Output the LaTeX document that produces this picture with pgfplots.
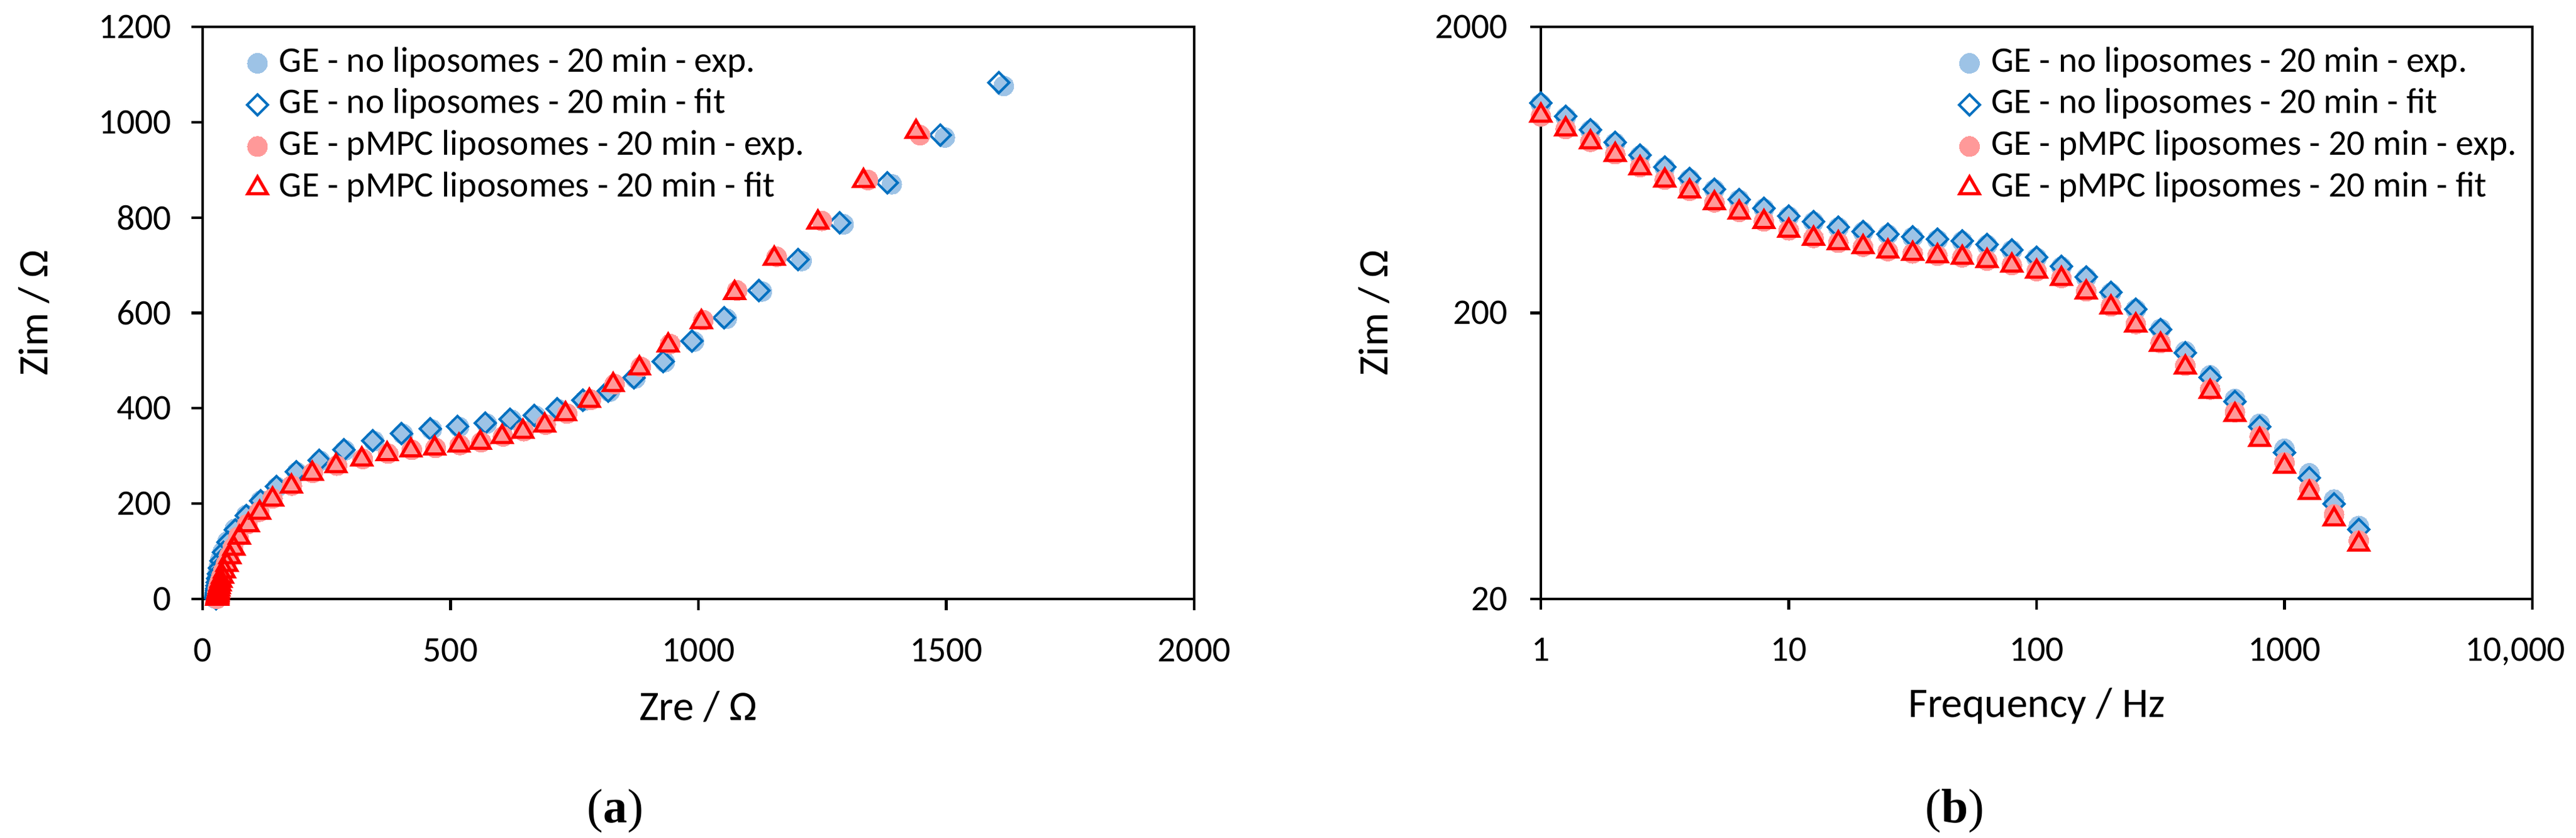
\documentclass[border=0pt]{standalone}
\usepackage{fontspec}
\setmainfont{Carlito}
\newfontfamily\capfont{Liberation Serif}
\usepackage{pgfplots}
\usepackage{pgfplotstable}
\pgfplotsset{compat=1.18}

\definecolor{fitblue}{RGB}{0,112,192}
\definecolor{expblue}{RGB}{157,195,230}
\definecolor{fitred}{RGB}{255,0,0}
\definecolor{expred}{RGB}{255,153,153}

% f / Hz, Zre / Ohm, Zim / Ohm
\pgfplotstableread{
f zre zim
1 1616 1076
1.259 1497 968
1.585 1390 870
1.995 1293 786
2.512 1208 709
3.162 1128 645
3.981 1057 588
5.012 991 540
6.310 932 497
7.943 873 463
10.00 821 435
12.59 770 416
15.85 718 398
19.95 672 384
25.12 623 376
31.62 573 368
39.81 517 361
50.12 462 356
63.10 404 346
79.43 346 331
100.0 287 312
125.9 237 290
158.5 190 266
199.5 150 235
251.2 117 206
316.2 88 176
398.1 65 147
501.2 50 121
631.0 41 100
794.3 35.5 82
1000 32.5 67
1259 30.5 55
1585 29 44.5
1995 28 36
2512 27.5 29
3162 27 23
3981 26.8 18.5
5012 26.6 14.5
6310 26.5 11.5
7943 26.4 9.2
10000 26.4 7.2
12589 26.3 5.7
15849 26.3 4.6
19953 26.3 3.6
25119 26.3 2.9
31623 26.2 2.3
39811 26.2 1.8
50119 26.2 1.5
63096 26.2 1.2
79433 26.2 0.9
100000 26.2 0.7
}\noexp

\pgfplotstableread{
f zre zim
1 1606 1083
1.259 1488 973
1.585 1381 873
1.995 1285 789
2.512 1201 712
3.162 1122 647
3.981 1052 590
5.012 987 541
6.310 929 498
7.943 870 464
10.00 818 436
12.59 767 417
15.85 715 399
19.95 669 385
25.12 620 377
31.62 570 369
39.81 514 362
50.12 459 357
63.10 401 347
79.43 343 332
100.0 285 313
125.9 235 291
158.5 189 267
199.5 149 236
251.2 117 206
316.2 88 175
398.1 66 145
501.2 51 119
631.0 42 98
794.3 37 80
1000 34 65
1259 32 53
1585 30.5 43
1995 29.5 35
2512 28.8 28
3162 28.3 22
3981 28.0 18
5012 27.8 14
6310 27.6 11
7943 27.5 9
10000 27.4 7
12589 27.3 5.5
15849 27.3 4.5
19953 27.2 3.5
25119 27.2 2.8
31623 27.2 2.2
39811 27.1 1.8
50119 27.1 1.4
63096 27.1 1.1
79433 27.1 0.9
100000 27.1 0.7
}\nofit

\pgfplotstableread{
f zre zim
1 1447 973
1.259 1342 879
1.585 1249 793
1.995 1158 718
2.512 1078 647
3.162 1010 585
3.981 943 535
5.012 884 487
6.310 831 451
7.943 783 418
10.00 735 389
12.59 692 366
15.85 648 352
19.95 606 341
25.12 562 329
31.62 519 323
39.81 470 317
50.12 422 313
63.10 374 305
79.43 323 294
100.0 271 280
125.9 222 265
158.5 180 238
199.5 141 211
251.2 114 183
316.2 90 157
398.1 72 131
501.2 61 108
631.0 53 90
794.3 47 74
1000 42 60
1259 38.5 48.5
1585 35.5 39.5
1995 33.5 32
2512 32 26
3162 31 21
3981 30.3 17
5012 29.8 13.5
6310 29.4 10.5
7943 29.2 8.4
10000 29 6.7
12589 28.9 5.4
15849 28.8 4.3
19953 28.7 3.4
25119 28.7 2.7
31623 28.6 2.2
39811 28.6 1.7
50119 28.6 1.4
63096 28.6 1.1
79433 28.6 0.9
100000 28.6 0.7
}\pmpcexp

\pgfplotstableread{
f zre zim
1 1439 980
1.259 1333 877
1.585 1241 790
1.995 1153 714
2.512 1073 642
3.162 1006 581
3.981 939 532
5.012 881 484
6.310 828 449
7.943 780 416
10.00 732 388
12.59 690 364
15.85 646 351
19.95 604 340
25.12 560 328
31.62 517 322
39.81 468 316
50.12 420 312
63.10 372 304
79.43 321 293
100.0 269 279
125.9 221 263
158.5 179 236
199.5 141 209
251.2 115 181
316.2 92 155
398.1 74 129
501.2 63 106
631.0 55 88
794.3 49 72
1000 44 58
1259 40 47
1585 37 38
1995 35 31
2512 33.5 25
3162 32.5 20
3981 31.5 16
5012 31 13
6310 30.5 10
7943 30.2 8
10000 30 6.5
12589 29.8 5.2
15849 29.7 4.1
19953 29.6 3.3
25119 29.5 2.6
31623 29.5 2.1
39811 29.4 1.7
50119 29.4 1.3
63096 29.4 1.1
79433 29.4 0.8
100000 29.4 0.7
}\pmpcfit

\pgfplotsset{
  leg/.style={legend image code/.code={%
    \path[draw=none, fill=none] (-4pt,-3.5pt) rectangle (7pt,3.5pt);
    \draw[##1] plot coordinates {(0pt,0pt)};}},
  expb/.style={only marks, mark=*, mark size=3.2pt,
    mark options={draw=expblue, fill=expblue, line width=0pt}, leg},
  fitb/.style={only marks, mark=square, mark size=2.35pt,
    mark options={rotate=45, draw=fitblue, fill=none, line width=0.8pt}, leg},
  expr/.style={only marks, mark=*, mark size=3.2pt,
    mark options={draw=expred, fill=expred, line width=0pt}, leg},
  fitr/.style={only marks, mark=triangle, mark size=3.6pt,
    mark options={draw=fitred, fill=none, line width=1pt}, leg},
  eis/.style={
    scale only axis, width=318pt, height=183.4pt,
    anchor=south west, clip=false,
    axis line style={line width=0.85pt},
    every tick/.style={black, line width=0.85pt},
    tick align=outside, tick pos=left, major tick length=3.5pt,
    tick label style={font=\fontsize{11.5}{13}\selectfont},
    xticklabel style={yshift=-5.5pt},
    yticklabel style={xshift=-3pt},
    label style={font=\fontsize{13.5}{15}\selectfont},
    xlabel style={at={(axis description cs:0.5,-0.1876)}, anchor=center},
    ylabel style={at={(axis description cs:-0.1704,0.5)}, anchor=center},
    /pgf/number format/assume math mode=true,
    /pgf/number format/1000 sep={},
    legend cell align=left,
    legend style={draw=none, fill=none, anchor=north west,
      inner xsep=0pt, inner ysep=0pt, row sep=2.83pt,
      font=\fontsize{11.5}{13}\selectfont,
      nodes={inner sep=0pt, text height=8pt, text depth=2.5pt}},
  },
}

\begin{document}
\begin{tikzpicture}
\path[use as bounding box] (0,0) rectangle (826.2pt,268.4pt);

\begin{axis}[eis, at={(65pt,76.4pt)},
  xmin=0, xmax=2000, ymin=0, ymax=1200,
  xtick={0,500,1000,1500,2000},
  ytick={0,200,400,600,800,1000,1200},
  xlabel={Zre / Ω}, ylabel={Zim / Ω},
  legend style={at={(axis description cs:0.0421,0.966)}},
]
\addplot[expb] table[x=zre, y=zim] {\noexp};
\addlegendentry{GE - no liposomes - 20 min - exp.}
\addplot[fitb] table[x=zre, y=zim] {\nofit};
\addlegendentry{GE - no liposomes - 20 min - fit}
\addplot[expr] table[x=zre, y=zim] {\pmpcexp};
\addlegendentry{GE - pMPC liposomes - 20 min - exp.}
\addplot[fitr] table[x=zre, y=zim] {\pmpcfit};
\addlegendentry{GE - pMPC liposomes - 20 min - fit}
\end{axis}

\begin{axis}[eis, at={(494.2pt,76.4pt)},
  xmode=log, ymode=log,
  xmin=1, xmax=10000, ymin=20, ymax=2000,
  xminorticks=false, yminorticks=false,
  xtick={1,10,100,1000,10000},
  xticklabels={1,10,100,1000,{\hspace*{-11pt}10,000}},
  ytick={20,200,2000},
  yticklabels={20,200,2000},
  yticklabel style={xshift=-0.6pt},
  xlabel={Frequency / Hz}, ylabel={Zim / Ω},
  ylabel style={at={(axis description cs:-0.168,0.5)}},
  xlabel style={at={(axis description cs:0.5,-0.1865)}},
  legend style={at={(axis description cs:0.4191,0.966)}},
]
\addplot[expb, skip coords between index={34}{51}] table[x=f, y=zim] {\noexp};
\addlegendentry{GE - no liposomes - 20 min - exp.}
\addplot[fitb, skip coords between index={34}{51}] table[x=f, y=zim] {\nofit};
\addlegendentry{GE - no liposomes - 20 min - fit}
\addplot[expr, skip coords between index={34}{51}] table[x=f, y=zim] {\pmpcexp};
\addlegendentry{GE - pMPC liposomes - 20 min - exp.}
\addplot[fitr, skip coords between index={34}{51}] table[x=f, y=zim] {\pmpcfit};
\addlegendentry{GE - pMPC liposomes - 20 min - fit}
\end{axis}

\node[font=\capfont\fontsize{15.5}{17}\selectfont] at (197.4pt,8.4pt) {(\textbf{a})};
\node[font=\capfont\fontsize{15.5}{17}\selectfont] at (627pt,8.4pt) {(\textbf{b})};
\end{tikzpicture}
\end{document}
